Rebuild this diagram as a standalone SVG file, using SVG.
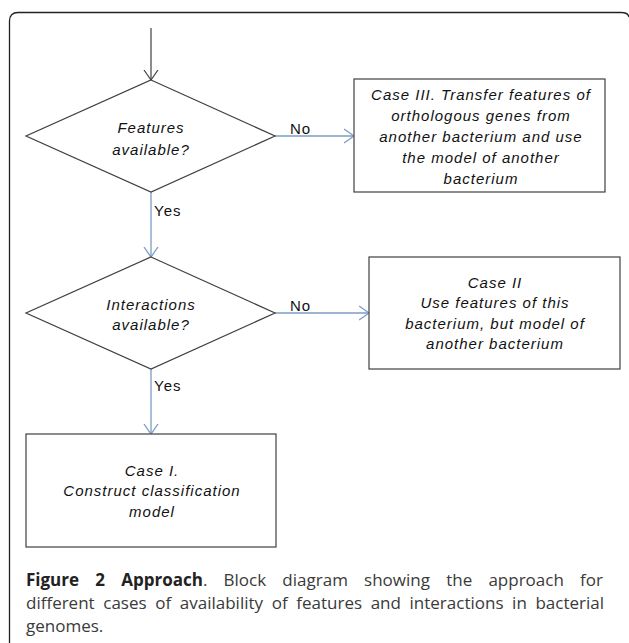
<svg xmlns="http://www.w3.org/2000/svg" width="629" height="643" viewBox="0 0 629 643">
<style>
.frame{fill:none;stroke:#222;stroke-width:1.3}
.shape{fill:#fff;stroke:#404040;stroke-width:1.2}
.t{font-family:"Liberation Sans",Arial,sans-serif;font-size:15px;font-style:italic;fill:#111;text-anchor:middle;letter-spacing:1px}
.lbl{font-family:"Liberation Sans",Arial,sans-serif;font-size:15px;fill:#111;letter-spacing:1px}
.blue{stroke:#7b9cc4;stroke-width:1.3;fill:none}
.dark{stroke:#404040;stroke-width:1.2;fill:none}
.cap{font-family:"Open Sans","Noto Sans",sans-serif;font-size:17px;fill:#3a3a3a}
</style>
<defs>
<marker id="ab" markerWidth="12" markerHeight="16" refX="10" refY="8" orient="auto" markerUnits="userSpaceOnUse">
<path d="M0,1 L10,8 L0,15" fill="none" stroke="#7b9cc4" stroke-width="1.3"/>
</marker>
<marker id="ad" markerWidth="12" markerHeight="16" refX="10" refY="8" orient="auto" markerUnits="userSpaceOnUse">
<path d="M0,1 L10,8 L0,15" fill="none" stroke="#404040" stroke-width="1.2"/>
</marker>
</defs>
<path class="frame" d="M9.5,660 V21 Q9.5,12.5 18,12.5 H621 Q628,12.5 629,17"/>
<g id="connectors">
<line class="dark" x1="151" y1="28" x2="151" y2="80" marker-end="url(#ad)"/>
<line class="blue" x1="275" y1="136" x2="354" y2="136" marker-end="url(#ab)"/>
<line class="blue" x1="151" y1="192" x2="151" y2="257" marker-end="url(#ab)"/>
<line class="blue" x1="275" y1="313" x2="369" y2="313" marker-end="url(#ab)"/>
<line class="blue" x1="151" y1="369" x2="151" y2="434" marker-end="url(#ab)"/>
<text class="lbl" x="290" y="134">No</text>
<text class="lbl" x="154" y="216">Yes</text>
<text class="lbl" x="290" y="311">No</text>
<text class="lbl" x="154" y="391">Yes</text>
</g>
<g id="d1">
<polygon class="shape" points="151,80 275,136 151,192 26,136"/>
<text class="t" x="151" y="133">Features</text>
<text class="t" x="151" y="155">available?</text>
</g>
<g id="case3">
<rect class="shape" x="354" y="79" width="251" height="113"/>
<text class="t" x="481" y="100">Case III. Transfer features of</text>
<text class="t" x="481" y="121">orthologous genes from</text>
<text class="t" x="481" y="142">another bacterium and use</text>
<text class="t" x="481" y="163">the model of another</text>
<text class="t" x="481" y="184">bacterium</text>
</g>
<g id="d2">
<polygon class="shape" points="151,257 275,313 151,369 26,313"/>
<text class="t" x="151" y="310">Interactions</text>
<text class="t" x="151" y="330">available?</text>
</g>
<g id="case2">
<rect class="shape" x="369" y="257" width="251" height="112"/>
<text class="t" x="495" y="288">Case II</text>
<text class="t" x="495" y="308">Use features of this</text>
<text class="t" x="495" y="329">bacterium, but model of</text>
<text class="t" x="495" y="349">another bacterium</text>
</g>
<g id="case1">
<rect class="shape" x="26" y="434" width="250" height="113"/>
<text class="t" x="152" y="476">Case I.</text>
<text class="t" x="152" y="496">Construct classification</text>
<text class="t" x="152" y="517">model</text>
</g>
<g id="caption">
<text class="cap" x="26" y="586" word-spacing="11.8"><tspan font-weight="bold" fill="#222">Figure 2 Approach</tspan>. Block diagram showing the approach for</text>
<text class="cap" x="26" y="609" word-spacing="4.2">different cases of availability of features and interactions in bacterial</text>
<text class="cap" x="26" y="632">genomes.</text>
</g>
</svg>
